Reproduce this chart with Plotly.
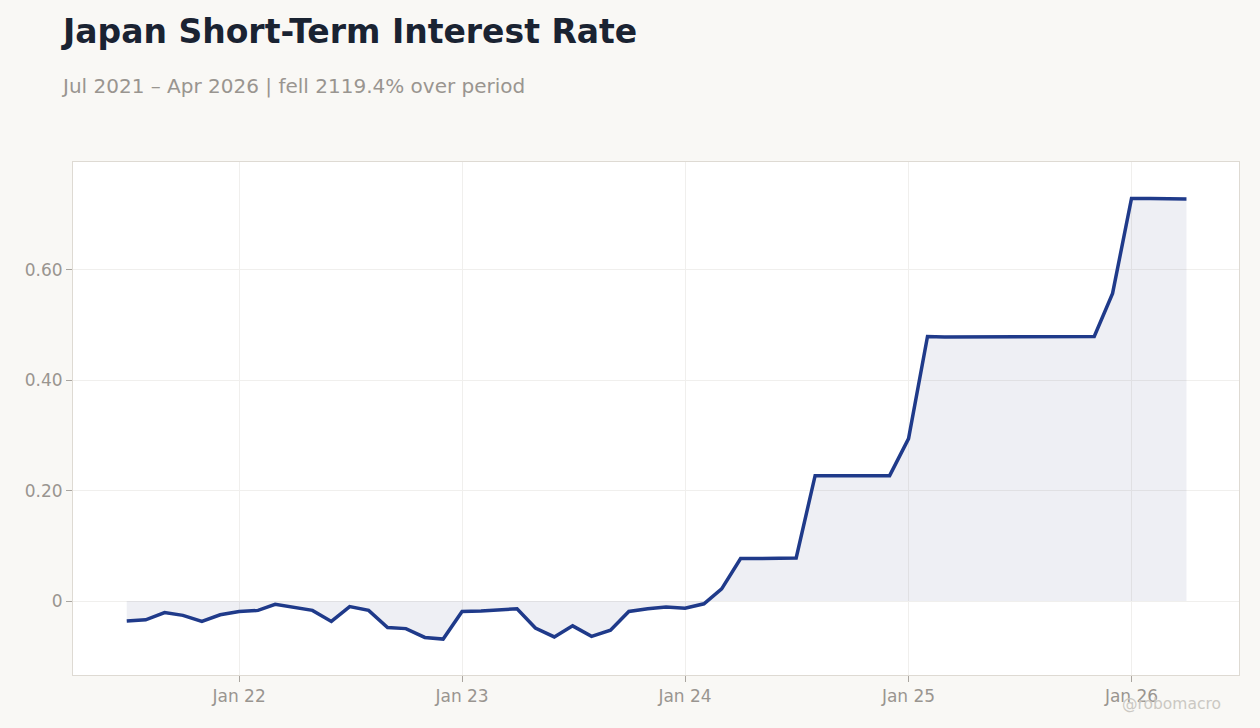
import pandas as pd
import plotly.graph_objects as go

# monthly observations, Jul 2021 .. Apr 2026 (first of month)
months = pd.date_range("2021-07-01", "2026-04-01", freq="MS")
rates = [
    -0.036, -0.034, -0.021, -0.026, -0.037, -0.025,  # 2021 H2
    -0.019, -0.017, -0.006, -0.011, -0.017, -0.037,
    -0.010, -0.017, -0.048, -0.050, -0.066, -0.069,  # 2022
    -0.019, -0.018, -0.016, -0.014, -0.049, -0.065,
    -0.045, -0.064, -0.053, -0.019, -0.014, -0.011,  # 2023
    -0.013, -0.005, 0.022, 0.077, 0.077, 0.077,
    0.078, 0.227, 0.227, 0.227, 0.227, 0.227,  # 2024
    0.294, 0.479, 0.478, 0.478, 0.478, 0.478,
    0.479, 0.478, 0.478, 0.478, 0.479, 0.557,  # 2025
    0.729, 0.729, 0.729, 0.728,  # 2026
]
y_tickvals = [0, 0.2, 0.4, 0.6]
y_ticktext = ["0", "0.20", "0.40", "0.60"]
x_tickvals = ["2022-01-01", "2023-01-01", "2024-01-01", "2025-01-01", "2026-01-01"]
x_ticktext = ["Jan 22", "Jan 23", "Jan 24", "Jan 25", "Jan 26"]

FONT = "DejaVu Sans"
GREY = "#999590"
LINE = "#1f3a8a"

fig = go.Figure()
fig.add_trace(go.Scatter(
    x=months, y=rates, mode="lines",
    line=dict(color=LINE, width=3.5),
    fill="tozeroy", fillcolor="rgba(40,55,120,0.08)",
    hoverinfo="x+y", showlegend=False,
))

fig.update_layout(
    width=1260, height=728,
    paper_bgcolor="#f9f8f5", plot_bgcolor="#ffffff",
    margin=dict(l=73, r=21, t=162, b=53),
    font=dict(family=FONT, color=GREY, size=17),
    title=dict(
        text="<b>Japan Short-Term Interest Rate</b>",
        x=0, xref="paper", xanchor="left",
        y=0.957, yanchor="middle",
        font=dict(family=FONT, size=33, color="#1a2332"),
        pad=dict(l=-10),
    ),
    annotations=[
        dict(text="Jul 2021 – Apr 2026 | fell 2119.4% over period",
             xref="paper", yref="paper", x=-0.012, y=1.148,
             xanchor="left", yanchor="middle", showarrow=False,
             font=dict(family=FONT, size=20, color=GREY)),
        dict(text="@robomacro", xref="paper", yref="paper",
             x=1.0, y=-0.057, xanchor="right", yanchor="middle",
             xshift=-16, showarrow=False,
             font=dict(family=FONT, size=15.5, color="#cbc8c3")),
    ],
)

fig.update_xaxes(
    range=["2021-04-04", "2026-06-26"],
    tickvals=x_tickvals, ticktext=x_ticktext,
    showgrid=True, gridcolor="#f0efed", gridwidth=1,
    ticks="outside", ticklen=6, tickcolor="#aaa6a0",
    showline=True, linecolor="#dedad3", linewidth=1, mirror=True,
    zeroline=False, tickfont=dict(size=17, color=GREY),
)
fig.update_yaxes(
    range=[-0.134, 0.795],
    tickvals=y_tickvals, ticktext=y_ticktext,
    showgrid=True, gridcolor="#f0efed", gridwidth=1,
    ticks="outside", ticklen=6, tickcolor="#aaa6a0",
    showline=True, linecolor="#dedad3", linewidth=1, mirror=True,
    zeroline=False, tickfont=dict(size=17, color=GREY),
)

# drop the browser's default body margin so the figure sits at the page corner
fig.write_html("out.html", config={"displayModeBar": False},
               post_script="document.body.style.margin='0';")
